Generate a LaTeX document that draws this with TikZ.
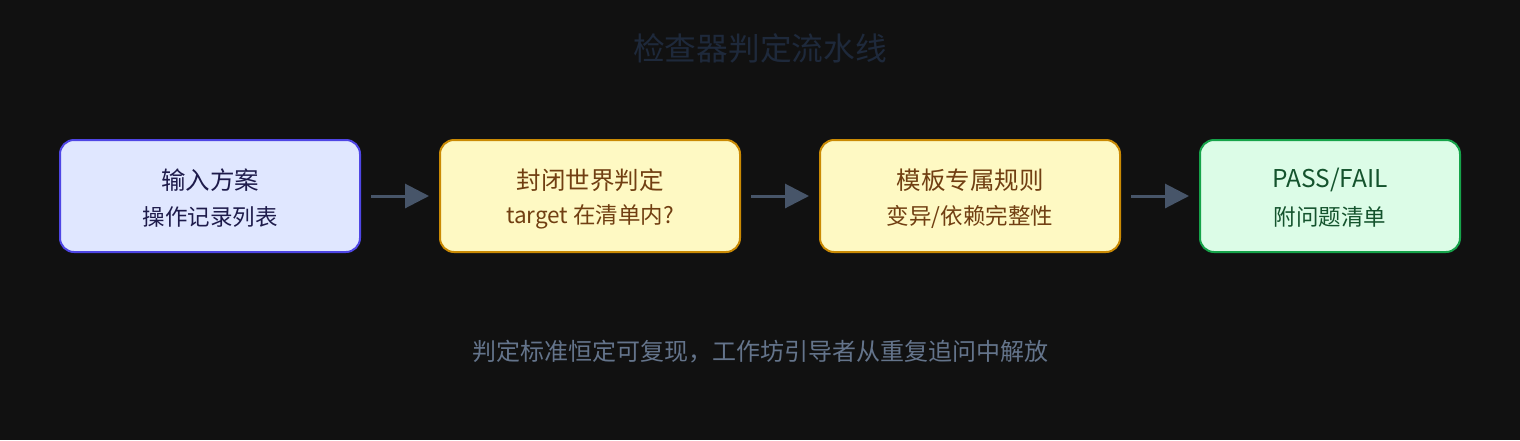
\documentclass[tikz,border=0pt]{standalone}
\usepackage{fontspec}
\setmainfont{Noto Sans CJK SC}
\usetikzlibrary{arrows.meta}
\definecolor{bg}{HTML}{111111}
\definecolor{titlec}{HTML}{1E293B}
\definecolor{footc}{HTML}{64748B}
\definecolor{arrc}{HTML}{475569}
\definecolor{bfill}{HTML}{E0E7FF}\definecolor{bdraw}{HTML}{4F46E5}\definecolor{btext}{HTML}{1E1B4B}
\definecolor{yfill}{HTML}{FEF9C3}\definecolor{ydraw}{HTML}{CA8A04}\definecolor{ytext}{HTML}{713F12}
\definecolor{gfill}{HTML}{DCFCE7}\definecolor{gdraw}{HTML}{16A34A}\definecolor{gtext}{HTML}{14532D}
\tikzset{
  stagebox/.style={rounded corners=14pt, line width=2pt, minimum height=112pt, inner sep=0pt},
  bluebox/.style={stagebox, fill=bfill, draw=bdraw, minimum width=300pt},
  yellowbox/.style={stagebox, fill=yfill, draw=ydraw, minimum width=300pt},
  greenbox/.style={stagebox, fill=gfill, draw=gdraw, minimum width=260pt},
  lineone/.style={font=\fontsize{24.5}{29}\selectfont, anchor=center},
  linetwo/.style={font=\fontsize{22.5}{27}\selectfont, anchor=center},
  flow/.style={draw=arrc, line width=3pt, -{Triangle[length=24pt,width=24pt]}, shorten <=10pt, shorten >=10pt}
}
\begin{document}
\begin{tikzpicture}[x=1pt,y=-1pt]
\fill[bg] (0,0) rectangle (1520,440);
\useasboundingbox (0,0) rectangle (1520,440);
\node[text=titlec, font=\fontsize{31.7}{38}\selectfont] (title) at (760,48) {检查器判定流水线};

\node[bluebox] (b1) at (210,196) {};
\node[yellowbox] (b2) at (590,196) {};
\node[yellowbox] (b3) at (970,196) {};
\node[greenbox] (b4) at (1330,196) {};

\node[lineone, text=btext] (t1a) at (210,180) {输入方案};
\node[linetwo, text=btext] (t1b) at (210,217) {操作记录列表};
\node[lineone, text=ytext] (t2a) at (590,180) {封闭世界判定};
\node[linetwo, text=ytext] (t2b) at (590,217) {target 在清单内?};
\node[lineone, text=ytext] (t3a) at (970,180) {模板专属规则};
\node[linetwo, text=ytext] (t3b) at (970,217) {变异/依赖完整性};
\node[lineone, text=gtext] (t4a) at (1330,180) {PASS/FAIL};
\node[linetwo, text=gtext] (t4b) at (1330,217) {附问题清单};

\draw[flow] (b1.east) -- (b2.west);
\draw[flow] (b2.east) -- (b3.west);
\draw[flow] (b3.east) -- (b4.west);

\node[text=footc, font=\fontsize{24}{30}\selectfont] (foot) at (760,352) {判定标准恒定可复现，工作坊引导者从重复追问中解放};
\end{tikzpicture}
\end{document}
